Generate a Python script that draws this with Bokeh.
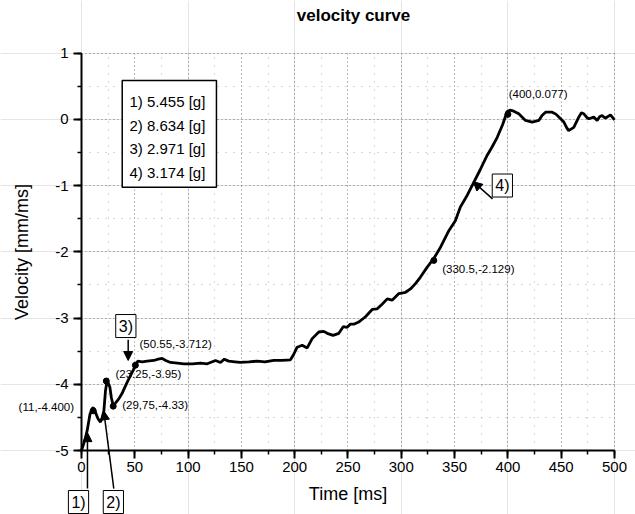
from bokeh.plotting import figure
from bokeh.models import (Range1d, SingleIntervalTicker, Label, Arrow, NormalHead,
                          LinearAxis, Grid, PrintfTickFormatter)
from bokeh.embed import file_html
from bokeh.resources import INLINE
from bokeh.core.properties import value

FONT = "Liberation Sans"

# ---- data ----
time_ms = [0, 3, 5.3, 8, 10, 11, 13, 15.5, 17.8, 19.5, 21, 22.5, 24, 26.6, 28, 29.7,
           32, 35, 38, 40.5, 42.8, 45, 47.5, 50.5, 52.8, 57, 61.6, 67.8, 72, 75.7,
           79, 83.5, 90, 96, 104, 111.6, 118, 125.7, 130.4, 134, 138, 144, 149, 157,
           164.8, 172, 180.4, 188, 196, 199, 202.3, 207, 211.7, 216.4, 222.6, 227.3,
           230.5, 236, 241.4, 245.5, 249.2, 252.3, 256, 260, 266.4, 272.7, 277.4, 282,
           286.8, 291.4, 297.7, 304, 308.6, 313.3, 318, 324.3, 330.5, 336.8, 344.6,
           350.7, 355.5, 362, 368, 374, 380.6, 385, 390, 395, 399.3, 402, 405.5, 410.2,
           416.5, 422.8, 429, 432, 435.3, 441.5, 445, 447.8, 452.5, 455, 457, 461.8,
           466.5, 469, 471.2, 474, 476, 480.6, 483.7, 486, 488.4, 491, 493, 496.2, 500]
velocity = [-5.0, -4.85, -4.70, -4.45, -4.37, -4.35, -4.42, -4.52, -4.57, -4.50, -4.40,
            -4.10, -3.94, -4.04, -4.20, -4.32, -4.28, -4.22, -4.14, -4.05, -3.97, -3.90,
            -3.82, -3.72, -3.65, -3.66, -3.65, -3.64, -3.62, -3.61, -3.64, -3.67, -3.68,
            -3.69, -3.69, -3.68, -3.69, -3.64, -3.67, -3.62, -3.65, -3.66, -3.67, -3.66,
            -3.65, -3.66, -3.64, -3.64, -3.63, -3.55, -3.44, -3.41, -3.45, -3.31, -3.21,
            -3.20, -3.23, -3.26, -3.23, -3.13, -3.14, -3.09, -3.09, -3.06, -2.98, -2.87,
            -2.86, -2.79, -2.71, -2.73, -2.63, -2.61, -2.56, -2.48, -2.38, -2.23, -2.10,
            -1.93, -1.68, -1.53, -1.32, -1.14, -0.95, -0.76, -0.54, -0.42, -0.27, -0.08,
            0.12, 0.14, 0.125, 0.085, -0.015, -0.04, -0.015, 0.06, 0.11, 0.11, 0.08,
            0.035, -0.04, -0.12, -0.17, -0.12, 0.035, 0.10, 0.085, 0.03, 0.01, 0.035,
            -0.015, 0.04, 0.06, 0.02, 0.035, 0.07, -0.005]

point_t = [11, 23.25, 29.75, 50.55, 330.5, 400]
point_v = [-4.400, -3.95, -4.33, -3.712, -2.129, 0.077]
point_text = ["(11,-4.400)", "(23.25,-3.95)", "(29,75,-4.33)", "(50.55,-3.712)",
              "(330.5,-2.129)", "(400,0.077)"]
legend_lines = ["1) 5.455 [g]", "2) 8.634 [g]", "3) 2.971 [g]", "4) 3.174 [g]"]
marker_text = ["1)", "2)", "3)", "4)"]

title_text = "velocity curve"
x_label = "Time [ms]"
y_label = "Velocity [mm/ms]"
x_bounds = (0, 500)
y_bounds = (-5, 1)
x_tick_step = 50
y_tick_step = 1

# ---- layout / styling ----
# the frame fills the whole canvas; axes are pinned at x=0 and y=-5
p = figure(width=635, height=514, output_backend="svg", toolbar_location=None,
           x_range=Range1d(-75.98, 519.7), y_range=Range1d(-5.966, 1.796),
           x_axis_location=None, y_axis_location=None,
           min_border=0, outline_line_color=None, background_fill_color="white")
p.title.text = ""

x_ticker = SingleIntervalTicker(interval=x_tick_step, num_minor_ticks=2)
y_ticker = SingleIntervalTicker(interval=y_tick_step, num_minor_ticks=2)

xax = LinearAxis(fixed_location=y_bounds[0], bounds=x_bounds, ticker=x_ticker,
                 formatter=PrintfTickFormatter(format="%d"), axis_label=x_label)
yax = LinearAxis(fixed_location=x_bounds[0], bounds=y_bounds, ticker=y_ticker,
                 formatter=PrintfTickFormatter(format="%d"), axis_label=y_label)
for ax in (xax, yax):
    ax.axis_line_width = 2
    ax.axis_line_color = "black"
    ax.major_tick_line_width = 2
    ax.minor_tick_line_width = 1.5
    ax.major_tick_out = 8
    ax.major_tick_in = 0
    ax.minor_tick_out = 4
    ax.minor_tick_in = 0
    ax.major_label_text_font = FONT
    ax.major_label_text_font_size = "15px"
    ax.major_label_text_color = "black"
    ax.axis_label_text_font = FONT
    ax.axis_label_text_font_size = "18px"
    ax.axis_label_text_font_style = "normal"
    ax.axis_label_text_color = "black"
xax.major_label_standoff = 3
yax.major_label_standoff = 5
xax.axis_label_standoff = 9
yax.axis_label_standoff = 20
p.add_layout(xax, "below")
p.add_layout(yax, "left")

xg = Grid(dimension=0, ticker=x_ticker, bounds=x_bounds, cross_bounds=y_bounds)
yg = Grid(dimension=1, ticker=y_ticker, bounds=y_bounds, cross_bounds=x_bounds)
for g in (xg, yg):
    g.grid_line_color = "#888888"
    g.grid_line_dash = "1 3"
    g.grid_line_width = 1
    g.minor_grid_line_color = "#b0b0b0"
    g.minor_grid_line_dash = "1 7"
    g.minor_grid_line_width = 1
    p.add_layout(g)

# legend box
p.quad(left=[38.2], right=[126.6], top=[0.588], bottom=[-1.024],
       fill_color="white", line_color="black", line_width=1.5)
legend_y = [0.27, -0.09, -0.445, -0.80]
p.text(x=[45] * 4, y=legend_y, text=legend_lines, text_font=value(FONT),
       text_font_size="15px", text_baseline="middle", text_align="left", text_color="black")

# curve
p.line(time_ms, velocity, line_color="black", line_width=2.8)
p.scatter(point_t, point_v, size=6, color="black")

# point annotations
label_x = [-33, 31.9, 38.2, 54.4, 338.4, 400.8]
label_y = [-4.346, -3.84, -4.305, -3.39, -2.255, 0.387]
label_align = ["center", "left", "left", "left", "left", "left"]
for tx, lx, ly, al in zip(point_text, label_x, label_y, label_align):
    p.add_layout(Label(x=lx, y=ly, text=tx, text_font=FONT, text_font_size="11.5px",
                       text_align=al, text_baseline="middle", text_color="black"))

# boxed markers with arrows
arrow_start_x = [5.6, 30.3, 43.8, 385.6]
arrow_start_y = [-5.574, -5.574, -3.328, -1.20]
arrow_end_x = [5.6, 20.9, 43.8, 367.4]
arrow_end_y = [-4.73, -4.40, -3.64, -0.94]
for sx, sy, ex, ey in zip(arrow_start_x, arrow_start_y, arrow_end_x, arrow_end_y):
    p.add_layout(Arrow(x_start=sx, y_start=sy, x_end=ex, y_end=ey, line_width=1.5,
                       line_color="black",
                       end=NormalHead(size=9, fill_color="black", line_color="black")))

box_x = [-2.8, 29.9, 41.6, 394.8]
box_y = [-5.604, -5.604, -3.12, -0.998]
box_base = ["top", "top", "middle", "middle"]
for tx, bx, by, bb in zip(marker_text, box_x, box_y, box_base):
    p.add_layout(Label(x=bx, y=by, text=tx, text_font=FONT, text_font_size="16px",
                       text_align="center", text_baseline=bb, text_color="black",
                       border_line_color="black", border_line_width=1,
                       background_fill_color="white", padding=3))

# title
p.add_layout(Label(x=255.2, y=1.57, text=title_text, text_font=FONT, text_font_size="17px",
                   text_font_style="bold", text_align="center", text_baseline="middle",
                   text_color="black"))

open("out.html", "w").write(file_html(p, INLINE))
